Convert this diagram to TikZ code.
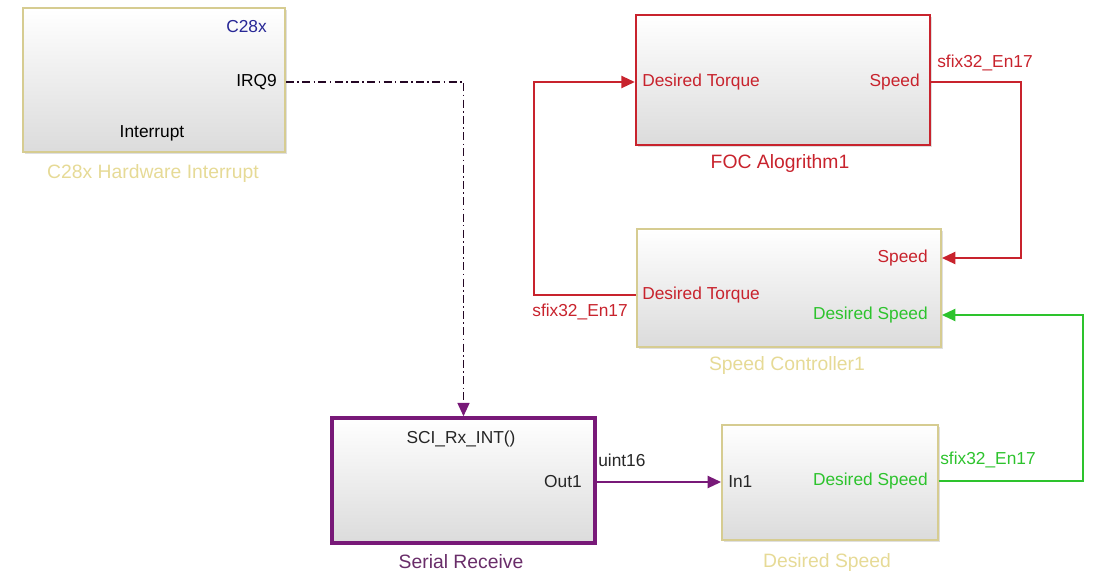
\documentclass[tikz,border=0pt]{standalone}
\usepackage{fontspec}
\setmainfont{Liberation Sans}
\usetikzlibrary{arrows.meta,calc,shadows}
\definecolor{blkyel}{RGB}{214,204,145}
\definecolor{lblyel}{RGB}{230,218,150}
\definecolor{sred}{RGB}{200,35,45}
\definecolor{spurp}{RGB}{120,25,120}
\definecolor{lpurp}{RGB}{105,45,105}
\definecolor{sgreen}{RGB}{45,195,45}
\definecolor{sblue}{RGB}{40,40,150}
\begin{document}
\begin{tikzpicture}[x=0.75pt,y=-0.75pt,
  block/.style={rectangle, top color=white, bottom color=black!14, inner sep=0,
    drop shadow={shadow xshift=1.2pt, shadow yshift=-1.2pt, opacity=0.25}},
  yblock/.style={block, draw=blkyel, line width=1.4pt},
  port/.style={font=\fontsize{13}{15}\selectfont, inner sep=0},
  lbl/.style={font=\fontsize{14.5}{17}\selectfont, inner sep=0},
  sig/.style={line width=1.5pt},
  tip/.style={-{Triangle[length=10pt,width=9pt]}}]
\useasboundingbox (0,0) rectangle (1110,576);

% blocks
\node[yblock, minimum width=196.5pt, minimum height=108pt] (ib) at (154,80) {};
\node[block, draw=sred, line width=1.8pt, minimum width=220.5pt, minimum height=97.5pt] (foc) at (783,80) {};
\node[yblock, minimum width=228pt, minimum height=88.5pt] (sc) at (789,288) {};
\node[block, draw=spurp, line width=2.6pt, minimum width=197.25pt, minimum height=93.75pt] (sr) at (463.5,480.5) {};
\node[yblock, minimum width=162pt, minimum height=86.25pt] (ds) at (830,482.5) {};

% interrupt block texts
\node[port, text=sblue, anchor=east] (c28) at (267,27) {C28x};
\node[port, anchor=east] (irq) at (277,82) {IRQ9};
\node[port] (intr) at (152,133) {Interrupt};
\node[lbl, text=lblyel] (iblbl) at (153,173) {C28x Hardware Interrupt};

% FOC texts
\node[port, text=sred, anchor=west] (foctq) at (642,82) {Desired Torque};
\node[port, text=sred, anchor=east] (focsp) at (920,82) {Speed};
\node[lbl, text=sred] (foclbl) at (780,163) {FOC Alogrithm1};
\node[port, text=sred, anchor=west] (focty) at (937,63) {sfix32\_En17};

% Speed controller texts
\node[port, text=sred, anchor=east] (scsp) at (928,258) {Speed};
\node[port, text=sred, anchor=west] (sctq) at (642,295) {Desired Torque};
\node[port, text=sgreen, anchor=east] (scds) at (928,315) {Desired Speed};
\node[lbl, text=lblyel] (sclbl) at (787,365) {Speed Controller1};
\node[port, text=sred, anchor=east] (scty) at (628,312) {sfix32\_En17};

% Serial receive texts
\node[port, text=black!85] (sci) at (461,439) {SCI\_Rx\_INT()};
\node[port, text=black!85, anchor=east] (sout) at (582,482) {Out1};
\node[port, text=black!85, anchor=west] (srty) at (598,460) {uint16};
\node[lbl, text=lpurp] (srlbl) at (461,562) {Serial Receive};

% Desired speed texts
\node[port, text=black!85, anchor=west] (dsin) at (728,482) {In1};
\node[port, text=sgreen, anchor=east] (dsds) at (928,481) {Desired Speed};
\node[lbl, text=lblyel] (dslbl) at (827,562) {Desired Speed};
\node[port, text=sgreen, anchor=west] (dsty) at (940,460) {sfix32\_En17};

% connectors
\draw[line width=1.1pt, draw=black!70!spurp, dash pattern=on 6pt off 2.5pt on 1.2pt off 2.5pt,
      -{Triangle[length=10pt,width=9pt,color=spurp]}]
  (irq -| ib.east) -| (sr.north);
\draw[sig, sred, tip] (focsp -| foc.east) -- ++(90,0) |- (scsp -| sc.east);
\draw[sig, sred, tip] (sctq -| sc.west) -- ++(-102,0) |- (foctq -| foc.west);
\draw[sig, spurp, tip] (sout -| sr.east) -- (sout -| ds.west);
\draw[sig, sgreen, tip] (dsds -| ds.east) -- ++(144,0) |- (scds -| sc.east);
\end{tikzpicture}
\end{document}
